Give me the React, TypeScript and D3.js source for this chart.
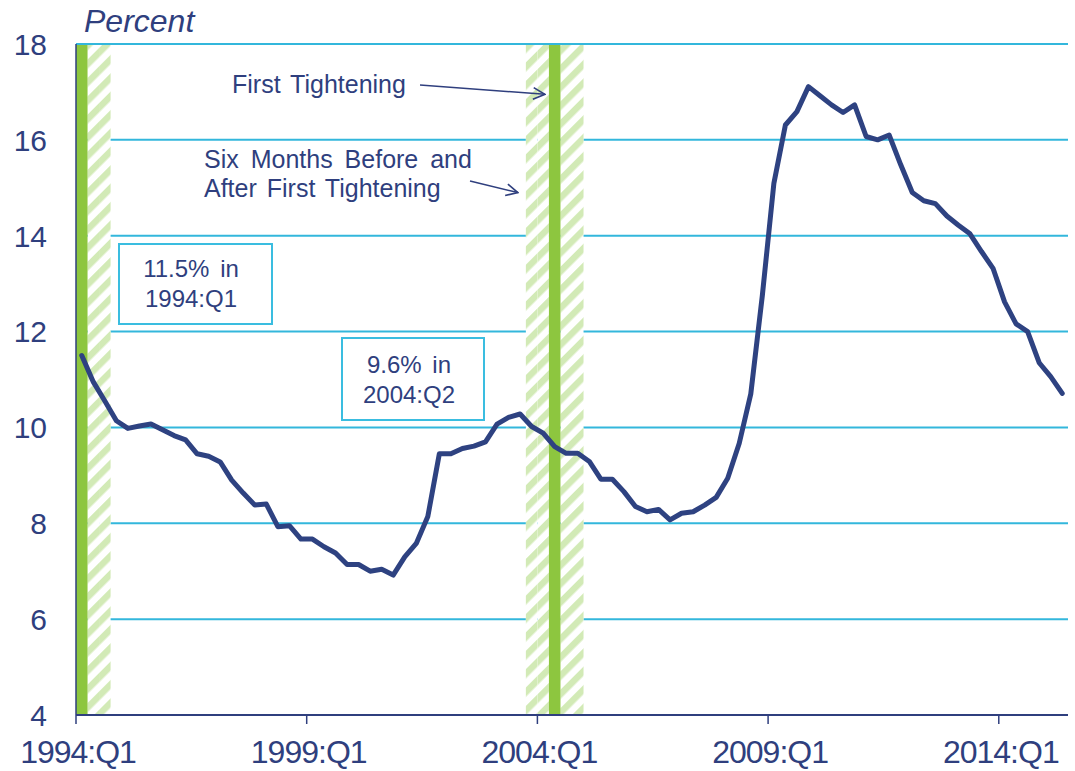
import React from 'react';
import * as d3 from 'd3';

const W = 1075;
const H = 771;
const margin = { top: 44, right: 7, bottom: 56, left: 76 };

// quarterly series, 1994:Q1 .. 2015:Q2
const startYear = 1994;
const quarterCount = 86;
const quarters: string[] = [];
for (let i = 0; i < quarterCount; i++) {
  quarters.push(`${startYear + Math.floor(i / 4)}:Q${(i % 4) + 1}`);
}

const values = [
  11.5, 10.95, 10.55, 10.14, 9.98, 10.03, 10.07, 9.95, 9.83, 9.74,
  9.45, 9.4, 9.28, 8.9, 8.63, 8.38, 8.4, 7.93, 7.95, 7.67,
  7.67, 7.51, 7.38, 7.14, 7.14, 7.0, 7.04, 6.92, 7.3, 7.58,
  8.14, 9.45, 9.45, 9.56, 9.61, 9.7, 10.07, 10.21, 10.28, 10.02,
  9.88, 9.6, 9.46, 9.46, 9.29, 8.92, 8.92, 8.66, 8.35, 8.24,
  8.29, 8.07, 8.21, 8.24, 8.38, 8.54, 8.94, 9.67, 10.7, 12.75,
  15.09, 16.31, 16.59, 17.11, 16.92, 16.73, 16.57, 16.73, 16.07, 16.0,
  16.1, 15.48, 14.9, 14.73, 14.67, 14.41, 14.22, 14.04, 13.67, 13.32,
  12.62, 12.16, 12.0, 11.35, 11.06, 10.71,
];

const xTickLabels = ['1994:Q1', '1999:Q1', '2004:Q1', '2009:Q1', '2014:Q1'];
const yTicks = [4, 6, 8, 10, 12, 14, 16, 18];

// first tightening quarters and the six months around them
const tightening = ['1994:Q1', '2004:Q2'];
const bandBefore = ['2003:Q4', '2004:Q1'];
const bandAfter = ['1994:Q2', '1994:Q3', '2004:Q3', '2004:Q4'];

const navy = '#2F3F7E';
const lineColor = '#2E4281';
const gridColor = '#33B7DC';
const green = '#8DC63F';
const hatchGreen = '#D2EAB6';
const font = '"Liberation Sans", Arial, sans-serif';

export default function App() {
  const x = d3.scaleBand<string>().domain(quarters).range([margin.left, W - margin.right]).paddingInner(0).paddingOuter(0);
  const y = d3.scaleLinear().domain([4, 18]).range([H - margin.bottom, margin.top]);
  const step = x.step();
  const cx = (q: string) => (x(q) as number) + step / 2;

  const line = d3.line<number>()
    .x((_, i) => cx(quarters[i]))
    .y(d => y(d));

  const hatched = [...bandBefore, ...bandAfter];
  const right = W - margin.right;
  const bottom = H - margin.bottom;

  const tip1: [number, number] = [(x('2004:Q2') as number) - 4, y(16.95)];
  const tip2: [number, number] = [(x('2003:Q4') as number) - 8, y(14.9)];

  return (
    <div style={{ position: 'absolute', left: 0, top: 0 }}>
      <svg width={W} height={H} style={{ display: 'block', fontFamily: font }}>
        <defs>
          <pattern id="hatch" patternUnits="userSpaceOnUse" width={13} height={13} patternTransform="rotate(45)">
            <rect x={0} y={0} width={6.5} height={13} fill={hatchGreen} />
          </pattern>
          <marker id="arrow" viewBox="0 0 12 12" refX={11} refY={6} markerWidth={14} markerHeight={14} markerUnits="userSpaceOnUse" orient="auto">
            <path d="M1,1 L11,6 L1,11" fill="none" stroke={navy} strokeWidth={1.4} />
          </marker>
        </defs>
        <rect width={W} height={H} fill="#fff" />

        {/* gridlines */}
        {yTicks.filter(t => t > 4 && t < 18).map(t => (
          <line key={t} x1={margin.left} x2={right} y1={y(t)} y2={y(t)} stroke={gridColor} strokeWidth={2} />
        ))}

        {/* bands */}
        {hatched.map(q => (
          <g key={q}>
            <rect x={x(q)} y={margin.top} width={step} height={bottom - margin.top} fill="#fff" />
            <rect x={x(q)} y={margin.top} width={step} height={bottom - margin.top} fill="url(#hatch)" />
          </g>
        ))}
        {tightening.map(q => (
          <rect key={q} x={x(q)} y={margin.top} width={step} height={bottom - margin.top} fill={green} />
        ))}

        <line x1={margin.left} x2={right} y1={y(18)} y2={y(18)} stroke={gridColor} strokeWidth={2} />

        {/* axes */}
        <line x1={margin.left} x2={margin.left} y1={margin.top} y2={bottom} stroke={navy} strokeWidth={1.5} />
        <line x1={margin.left} x2={right} y1={bottom} y2={bottom} stroke={navy} strokeWidth={2} />
        {xTickLabels.map(q => (
          <g key={q} transform={`translate(${x(q)},${bottom})`}>
            <line y1={0} y2={9} stroke={navy} strokeWidth={1.5} />
            <text x={2} y={48} textAnchor="middle" fontSize={32} fill={navy} letterSpacing={-1}>{q}</text>
          </g>
        ))}
        {yTicks.map(t => (
          <text key={t} x={47} y={y(t)} dy="0.36em" textAnchor="end" fontSize={30} fill={navy}>{t}</text>
        ))}
        <text x={84} y={32} fontSize={32} fontStyle="italic" fill={navy}>Percent</text>

        {/* series */}
        <path d={line(values) ?? ''} fill="none" stroke={lineColor} strokeWidth={5} strokeLinejoin="round" strokeLinecap="round" />

        {/* callout boxes */}
        <rect x={119} y={244} width={153} height={80} fill="#fff" stroke="#3ABDE0" strokeWidth={2} />
        <text x={191} y={277} textAnchor="middle" fontSize={24} fill={navy} wordSpacing={4}>11.5% in</text>
        <text x={191} y={307} textAnchor="middle" fontSize={24} fill={navy}>1994:Q1</text>

        <rect x={342} y={338} width={142} height={82} fill="#fff" stroke="#3ABDE0" strokeWidth={2} />
        <text x={409} y={373} textAnchor="middle" fontSize={24} fill={navy} wordSpacing={4}>9.6% in</text>
        <text x={409} y={403} textAnchor="middle" fontSize={24} fill={navy}>2004:Q2</text>

        {/* annotations */}
        <text x={232} y={93} fontSize={25} fill={navy} wordSpacing={3}>First Tightening</text>
        <line x1={420} y1={85} x2={tip1[0]} y2={tip1[1]} stroke={navy} strokeWidth={1.5} markerEnd="url(#arrow)" />
        <text x={204} y={168} fontSize={25} fill={navy} wordSpacing={5}>Six Months Before and</text>
        <text x={204} y={197} fontSize={25} fill={navy} wordSpacing={3}>After First Tightening</text>
        <line x1={470} y1={181} x2={tip2[0]} y2={tip2[1]} stroke={navy} strokeWidth={1.5} markerEnd="url(#arrow)" />
      </svg>
    </div>
  );
}
